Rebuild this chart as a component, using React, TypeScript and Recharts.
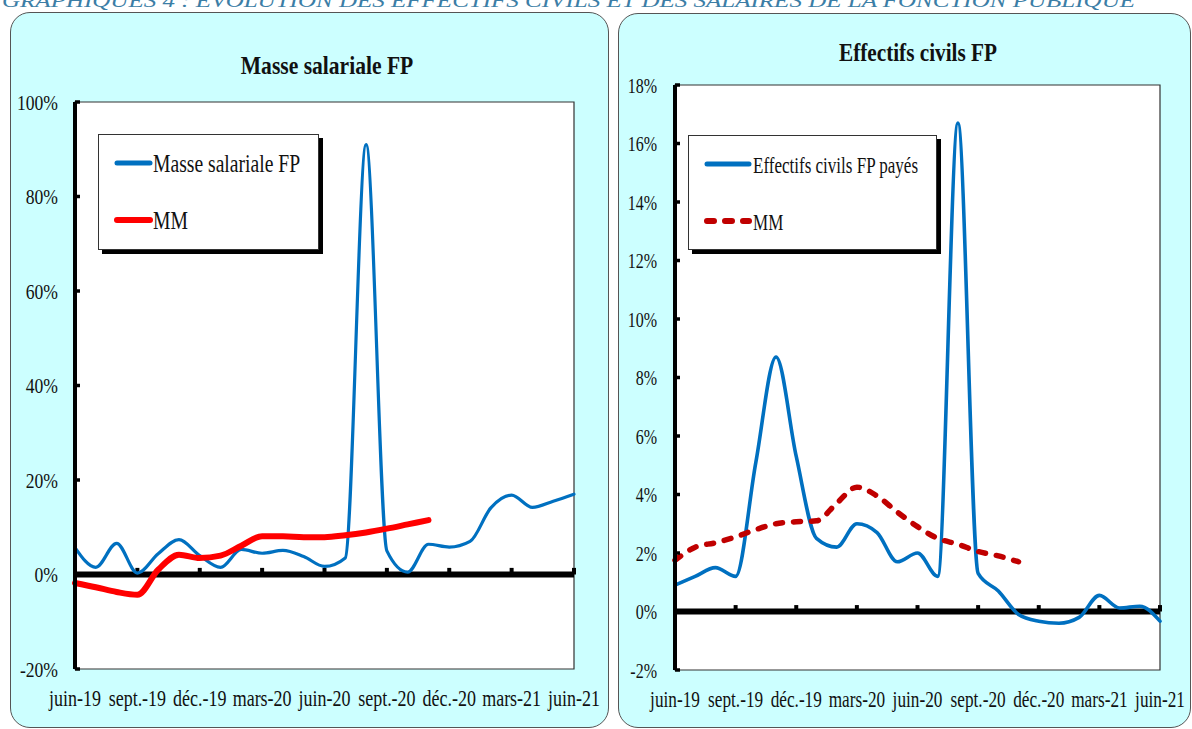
import { LineChart, Line, XAxis, YAxis, ReferenceLine, ReferenceArea, Legend } from 'recharts';

const MONTHS = [
  'juin-19', 'juil.-19', 'août-19', 'sept.-19', 'oct.-19', 'nov.-19', 'déc.-19',
  'janv.-20', 'févr.-20', 'mars-20', 'avr.-20', 'mai-20', 'juin-20', 'juil.-20',
  'août-20', 'sept.-20', 'oct.-20', 'nov.-20', 'déc.-20', 'janv.-21', 'févr.-21',
  'mars-21', 'avr.-21', 'mai-21', 'juin-21',
];

// glissement annuel en %
const MASSE_SALARIALE = [5.7, 1.5, 6.6, 0.3, 4.4, 7.4, 4.0, 1.5, 5.3, 4.5, 5.1, 3.8, 1.7, 3.5, 91, 5.0, 0.5, 6.4, 5.8, 7.0, 14.1, 16.8, 14.2, 15.5, 17.0];
const MASSE_MM = [-1.8, -2.7, -3.7, -4.3, 1.0, 4.2, 3.5, 4.0, 6.1, 8.1, 8.1, 7.9, 7.9, 8.3, 8.9, 9.7, 10.6, 11.5, null, null, null, null, null, null, null];
const EFFECTIFS = [0.9, 1.2, 1.5, 1.2, 5.1, 8.7, 5.3, 2.5, 2.2, 3.0, 2.7, 1.7, 2.0, 1.2, 16.7, 1.3, 0.7, -0.1, -0.33, -0.4, -0.2, 0.55, 0.12, 0.18, -0.33];
const EFFECTIFS_MM = [1.75, 2.2, 2.35, 2.55, 2.8, 3.0, 3.07, 3.1, 3.7, 4.25, 3.95, 3.4, 2.9, 2.5, 2.3, 2.05, 1.9, 1.7, null, null, null, null, null, null, null];

const MASSE_TICKS = [-20, 0, 20, 40, 60, 80, 100];
const EFFECTIFS_TICKS = [-2, 0, 2, 4, 6, 8, 10, 12, 14, 16, 18];

const FONT = '"Liberation Serif", "DejaVu Serif", serif';
const PANEL = '#CCFFFF';

interface Serie {
  key: string;
  name: string;
  color: string;
  width: number;
  legendWidth: number;
  dash?: string;
}

const MASSE_SERIES: Serie[] = [
  { key: 'serie', name: 'Masse salariale FP', color: '#0070C0', width: 3.2, legendWidth: 5 },
  { key: 'mm', name: 'MM', color: '#FF0000', width: 6, legendWidth: 6 },
];

const EFFECTIFS_SERIES: Serie[] = [
  { key: 'serie', name: 'Effectifs civils FP payés', color: '#0070C0', width: 3.6, legendWidth: 5 },
  { key: 'mm', name: 'MM', color: '#C00000', width: 5.5, legendWidth: 6, dash: '7 11' },
];

const masseData = MONTHS.map((month, i) => ({ month, serie: MASSE_SALARIALE[i], mm: MASSE_MM[i] }));
const effectifsData = MONTHS.map((month, i) => ({ month, serie: EFFECTIFS[i], mm: EFFECTIFS_MM[i] }));
const quarterMonths = MONTHS.filter((_, i) => i > 0 && i % 3 === 0);

type TickProps = { x?: number; y?: number; payload?: { value: string | number } };

function monthTick(fontSize: number) {
  return ({ x = 0, y = 0, payload }: TickProps) => (
    <text
      transform={`translate(${x},${y + 37}) scale(0.75,1)`}
      textAnchor="middle"
      style={{ fontFamily: FONT }}
      fontSize={fontSize}
      fill="#111"
    >
      {payload?.value}
    </text>
  );
}

function percentTick(fontSize: number, gap: number) {
  return ({ x = 0, y = 0, payload }: TickProps) => (
    <g>
      <text
        transform={`translate(${x},${y + 7.5}) scale(0.8,1)`}
        textAnchor="end"
        style={{ fontFamily: FONT }}
        fontSize={fontSize}
        fill="#111"
      >
        {`${payload?.value}%`}
      </text>
      <line x1={x + gap} x2={x + gap + 5} y1={y} y2={y} stroke="#000" strokeWidth={3.5} />
    </g>
  );
}

function LegendBox({ series, width, height, lineEnd, textX, fontSize, squeeze }: {
  series: Serie[]; width: number; height: number; lineEnd: number; textX: number; fontSize: number; squeeze: number;
}) {
  return (
    <div
      style={{
        width,
        height,
        boxSizing: 'border-box',
        background: '#fff',
        border: '1px solid #333',
        boxShadow: '4px 4px 0 #000',
      }}
    >
      <svg width={width - 2} height={height - 2} style={{ display: 'block', overflow: 'visible' }}>
        {series.map((s, i) => {
          const cy = 28 + i * 57;
          return (
            <g key={s.key}>
              <line
                x1={18}
                x2={lineEnd}
                y1={cy}
                y2={cy}
                stroke={s.color}
                strokeWidth={s.legendWidth}
                strokeLinecap="round"
                strokeDasharray={s.dash}
              />
              <text
                transform={`translate(${textX},${cy + 8.5}) scale(${squeeze},1)`}
                style={{ fontFamily: FONT }}
                fontSize={fontSize}
                fill="#111"
              >
                {s.name}
              </text>
            </g>
          );
        })}
      </svg>
    </div>
  );
}

const panelStyle = (left: number, top: number, width: number, height: number) => ({
  position: 'absolute' as const,
  left,
  top,
  width,
  height,
  boxSizing: 'border-box' as const,
  background: PANEL,
  border: '1.5px solid #555',
  borderRadius: 20,
});

export default function App() {
  return (
    <div style={{ position: 'absolute', left: 0, top: 0, width: 1192, height: 729, overflow: 'hidden', background: '#fff' }}>
      <div style={panelStyle(10, 12, 599, 716)} />
      <div style={panelStyle(618, 13, 573, 715)} />

      <div style={{ position: 'absolute', left: 0, top: 0 }}>
        <LineChart width={600} height={729} data={masseData} margin={{ top: 102, right: 26, bottom: 20, left: 0 }}>
          <ReferenceArea y1={-20} y2={100} fill="#fff" fillOpacity={1} stroke="#333" strokeWidth={1.2} />
          <XAxis
            dataKey="month"
            interval={2}
            axisLine={false}
            tickLine={false}
            tickSize={0}
            tickMargin={0}
            height={40}
            tick={monthTick(24)}
          />
          <YAxis
            type="number"
            domain={[-20, 100]}
            ticks={MASSE_TICKS}
            interval={0}
            width={75}
            axisLine={{ stroke: '#000', strokeWidth: 4 }}
            tickLine={false}
            tickSize={0}
            tickMargin={17}
            tick={percentTick(22, 17)}
          />
          <ReferenceLine y={0} stroke="#000" strokeWidth={6} />
          {quarterMonths.map((m) => (
            <ReferenceLine key={m} segment={[{ x: m, y: 0 }, { x: m, y: 1.4 }]} stroke="#000" strokeWidth={4} />
          ))}
          {MASSE_SERIES.map((s) => (
            <Line
              key={s.key}
              type="monotone"
              dataKey={s.key}
              name={s.name}
              stroke={s.color}
              strokeWidth={s.width}
              strokeLinecap="round"
              dot={false}
              activeDot={false}
              isAnimationActive={false}
            />
          ))}
          <Legend
            verticalAlign="middle"
            align="center"
            wrapperStyle={{ left: 98, top: 134, width: 221, height: 116 }}
            content={() => (
              <LegendBox series={MASSE_SERIES} width={221} height={116} lineEnd={51} textX={54} fontSize={26} squeeze={0.755} />
            )}
          />
        </LineChart>
      </div>

      <div style={{ position: 'absolute', left: 600, top: 0 }}>
        <LineChart width={592} height={729} data={effectifsData} margin={{ top: 85, right: 32, bottom: 19, left: 0 }}>
          <ReferenceArea y1={-2} y2={18} fill="#fff" fillOpacity={1} stroke="#333" strokeWidth={1.2} />
          <XAxis
            dataKey="month"
            interval={2}
            axisLine={false}
            tickLine={false}
            tickSize={0}
            tickMargin={0}
            height={40}
            tick={monthTick(23)}
          />
          <YAxis
            type="number"
            domain={[-2, 18]}
            ticks={EFFECTIFS_TICKS}
            interval={0}
            width={75}
            axisLine={{ stroke: '#000', strokeWidth: 4 }}
            tickLine={false}
            tickSize={0}
            tickMargin={18}
            tick={percentTick(20, 18)}
          />
          <ReferenceLine y={0} stroke="#000" strokeWidth={6} />
          {quarterMonths.map((m) => (
            <ReferenceLine key={m} segment={[{ x: m, y: 0 }, { x: m, y: 0.22 }]} stroke="#000" strokeWidth={4} />
          ))}
          {EFFECTIFS_SERIES.map((s) => (
            <Line
              key={s.key}
              type="monotone"
              dataKey={s.key}
              name={s.name}
              stroke={s.color}
              strokeWidth={s.width}
              strokeLinecap="round"
              strokeDasharray={s.dash}
              dot={false}
              activeDot={false}
              isAnimationActive={false}
            />
          ))}
          <Legend
            verticalAlign="middle"
            align="center"
            wrapperStyle={{ left: 88, top: 135, width: 249, height: 115 }}
            content={() => (
              <LegendBox series={EFFECTIFS_SERIES} width={249} height={115} lineEnd={60} textX={64} fontSize={24} squeeze={0.71} />
            )}
          />
        </LineChart>
      </div>

      <svg
        width={1192}
        height={729}
        style={{ position: 'absolute', left: 0, top: 0, pointerEvents: 'none' }}
      >
        <text
          x={2}
          y={7}
          style={{ fontFamily: FONT }}
          fontSize={19}
          fontStyle="italic"
          fill="#3C7EA6"
          textLength={1133}
          lengthAdjust="spacingAndGlyphs"
        >
          GRAPHIQUES 4 : EVOLUTION DES EFFECTIFS CIVILS ET DES SALAIRES DE LA FONCTION PUBLIQUE
        </text>
        <text
          transform="translate(327,74) scale(0.83,1)"
          textAnchor="middle"
          style={{ fontFamily: FONT }}
          fontSize={26}
          fontWeight="bold"
          fill="#111"
        >
          Masse salariale FP
        </text>
        <text
          transform="translate(918,61) scale(0.85,1)"
          textAnchor="middle"
          style={{ fontFamily: FONT }}
          fontSize={25}
          fontWeight="bold"
          fill="#111"
        >
          Effectifs civils FP
        </text>
      </svg>
    </div>
  );
}
